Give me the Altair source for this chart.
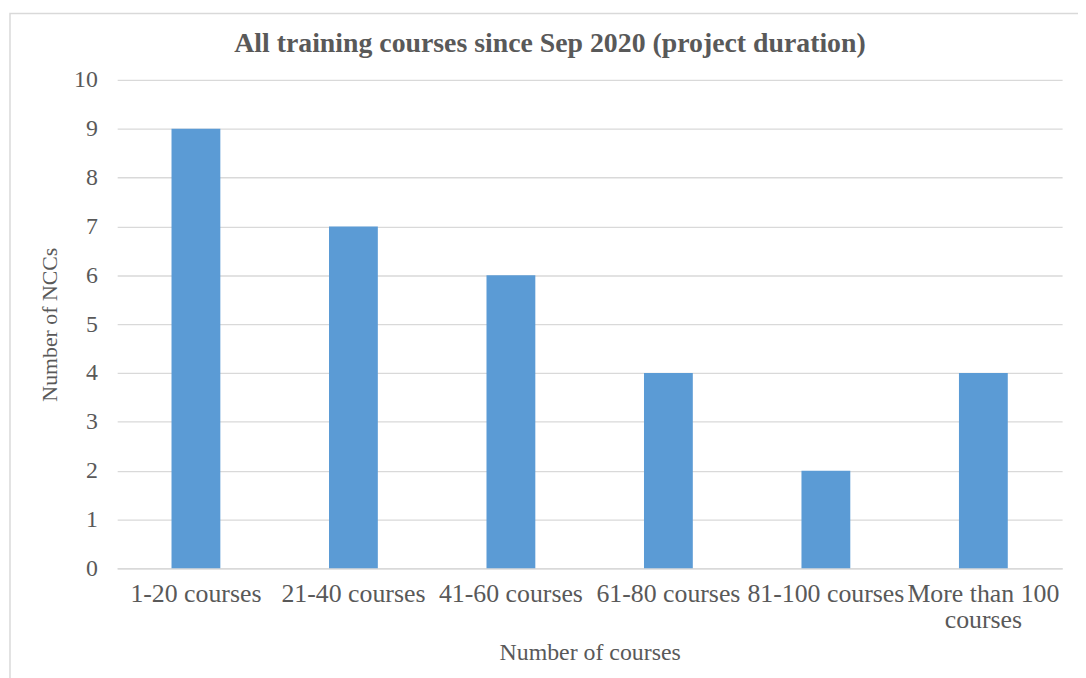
import altair as alt
import pandas as pd

categories = ["1-20 courses", "21-40 courses", "41-60 courses", "61-80 courses", "81-100 courses", "More than 100 courses"]
values = [9, 7, 6, 4, 2, 4]
y_ticks = [0, 1, 2, 3, 4, 5, 6, 7, 8, 9, 10]
title_text = "All training courses since Sep 2020 (project duration)"

df = pd.DataFrame({"cat": categories, "n": values})
FONT = "Liberation Serif"
TXT = "#595959"
GRID = "#D9D9D9"

label_expr = "datum.label == 'More than 100 courses' ? ['More than 100', 'courses'] : datum.label"

bars = alt.Chart(df).mark_bar(color="#5B9BD5").encode(
    x=alt.X("cat:N", sort=categories,
            scale=alt.Scale(paddingInner=0.69, paddingOuter=0.345),
            axis=alt.Axis(title="Number of courses", labelAngle=0, labelExpr=label_expr,
                          labelLimit=0, labelPadding=12, ticks=False, domain=True,
                          domainColor=GRID, domainWidth=1.5,
                          labelFont=FONT, labelFontSize=26, labelColor=TXT,
                          labelLineHeight=27, labelOverlap=False,
                          titleFont=FONT, titleFontSize=24, titleFontWeight="normal",
                          titleColor=TXT, titlePadding=8)),
    y=alt.Y("n:Q", scale=alt.Scale(domain=[0, 10]),
            axis=alt.Axis(title="Number of NCCs", values=y_ticks, ticks=False, domain=False,
                          grid=True, gridColor=GRID, gridWidth=1.3,
                          labelPadding=20, labelFont=FONT, labelFontSize=24, labelColor=TXT,
                          titleFont=FONT, titleFontSize=22, titleFontWeight="normal",
                          titleColor=TXT, titlePadding=12)),
)

one = pd.DataFrame({"t": [title_text]})

border = alt.Chart(one).mark_rect(
    fill=None, stroke=GRID, strokeWidth=1.5
).encode(
    x=alt.value(-108), x2=alt.value(990), y=alt.value(-67), y2=alt.value(640)
)

title = alt.Chart(one).mark_text(
    font=FONT, fontSize=28, fontWeight="bold", color=TXT, align="center", baseline="alphabetic"
).encode(
    text="t:N", x=alt.value(436), y=alt.value(-28)
)

chart = alt.layer(border, bars, title).properties(
    width=952, height=492,
    autosize=alt.AutoSizeParams(type="none"),
    padding={"left": 110, "top": 70, "right": 16, "bottom": 108},
).configure_view(stroke=None)

chart.save("out.html", embed_options={"renderer": "svg", "actions": False})
